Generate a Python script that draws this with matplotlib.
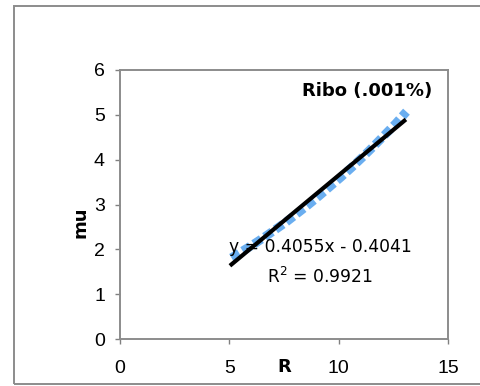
import matplotlib
matplotlib.use("Agg")
import matplotlib.pyplot as plt
from matplotlib.patches import Rectangle
import numpy as np

# Measured growth rate (mu) against R
r_vals = [5.1, 5.6, 6.1, 6.6, 7.1, 7.6, 8.1, 8.6, 9.1, 9.6, 10.1, 10.6, 11.1, 11.6, 12.1, 12.6, 13.1]
mu_vals = [1.81, 1.96, 2.11, 2.27, 2.44, 2.61, 2.80, 2.99, 3.19, 3.40, 3.61, 3.83, 4.06, 4.30, 4.55, 4.80, 5.07]

# Linear trend line
slope = 0.4055
intercept = -0.4041
trend_x = [5.1, 13.0]

x_ticks = [0, 5, 10, 15]
y_ticks = [0, 1, 2, 3, 4, 5, 6]

fig = plt.figure(figsize=(4.81, 3.86), dpi=100)
fig.patch.set_facecolor("white")

# Outer chart border
fig.add_artist(Rectangle((14 / 481, 2 / 386), 1.2, (380 - 2) / 386,
                         transform=fig.transFigure, fill=False,
                         edgecolor="#8c8c8c", linewidth=1.4, clip_on=False))

ax = fig.add_axes([120 / 481, (386 - 339) / 386, (448 - 120) / 481, (339 - 70) / 386])

ax.plot(r_vals, mu_vals, color="#6aaef0", linewidth=6.5,
        linestyle=(0, (1.0, 0.45)), solid_capstyle="butt", dash_capstyle="butt", zorder=2)

tx = np.array(trend_x)
ax.plot(tx, slope * tx + intercept, color="black", linewidth=3, zorder=3)

ax.set_xlim(0, 15)
ax.set_ylim(0, 6)
ax.set_xticks(x_ticks)
ax.set_yticks(y_ticks)
ax.set_xticklabels([str(v) for v in x_ticks])
ax.set_yticklabels([str(v) for v in y_ticks])
for lab in ax.get_xticklabels() + ax.get_yticklabels():
    lab.set_fontfamily("Liberation Sans")
    lab.set_fontsize(14)
ax.tick_params(axis="both", direction="out", length=3.8, width=1, color="#808080")
ax.tick_params(axis="x", pad=11)
ax.tick_params(axis="y", pad=7)
for s in ax.spines.values():
    s.set_color("#8c8c8c")
    s.set_linewidth(1.4)

ax.set_xlabel("R", fontweight="bold", fontsize=13)
ax.xaxis.set_label_coords(7.5 / 15, -0.072)
ax.set_ylabel("mu", fontweight="bold", fontsize=13)
ax.yaxis.set_label_coords(-0.094, 0.435)

ax.text(0.951, 0.922, "Ribo (.001%)", transform=ax.transAxes, ha="right", va="center",
        fontsize=13, fontweight="bold")
ax.text(9.15, 2.05, "y = 0.4055x - 0.4041", ha="center", va="center", fontsize=12.3)
ax.text(9.15, 1.38, "R$^2$ = 0.9921", ha="center", va="center", fontsize=12.3)

fig.savefig("out.png", dpi=100, facecolor="white")
